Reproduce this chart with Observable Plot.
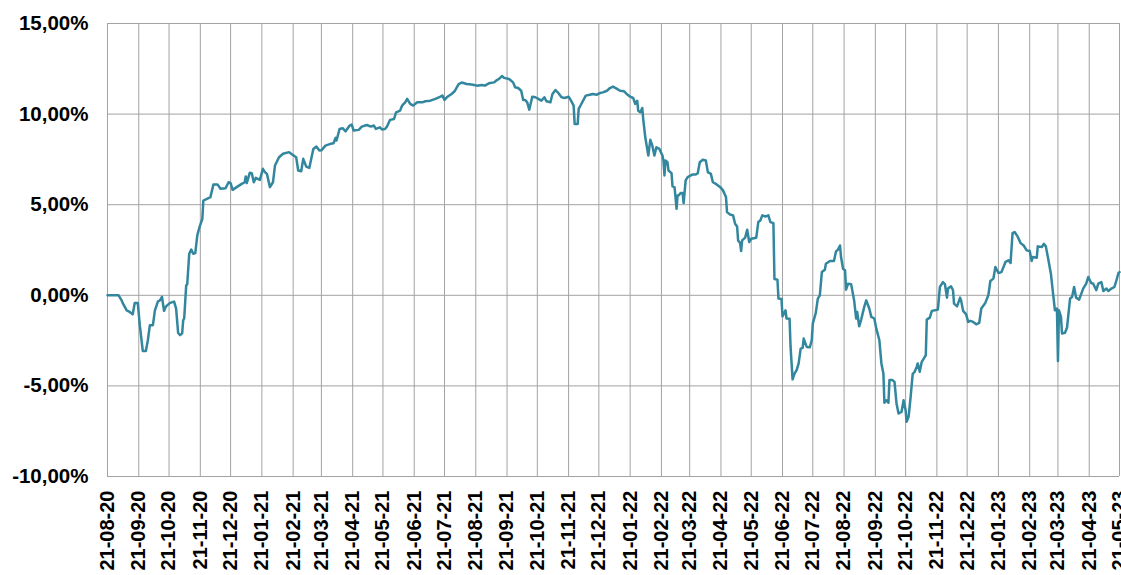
<!DOCTYPE html>
<html>
<head>
<meta charset="utf-8">
<script src="https://cdn.jsdelivr.net/npm/d3@7"></script>
<script src="https://cdn.jsdelivr.net/npm/@observablehq/plot@0.6"></script>
<style>
  html, body { margin: 0; padding: 0; background: #ffffff; }
  #chart { width: 1121px; height: 575px; overflow: hidden; }
</style>
</head>
<body>
<div id="chart"></div>
<script>
const tickDates = ["2020-08-21","2020-09-21","2020-10-21","2020-11-21","2020-12-21","2021-01-21","2021-02-21","2021-03-21","2021-04-21","2021-05-21","2021-06-21","2021-07-21","2021-08-21","2021-09-21","2021-10-21","2021-11-21","2021-12-21","2022-01-21","2022-02-21","2022-03-21","2022-04-21","2022-05-21","2022-06-21","2022-07-21","2022-08-21","2022-09-21","2022-10-21","2022-11-21","2022-12-21","2023-01-21","2023-02-21","2023-03-21","2023-04-21","2023-05-21"];
const yTicks = [-10, -5, 0, 5, 10, 15];

const dates = [
"2020-08-21","2020-09-01","2020-09-04","2020-09-05","2020-09-09","2020-09-12","2020-09-15","2020-09-17","2020-09-20","2020-09-22","2020-09-25","2020-09-28","2020-09-30","2020-10-02","2020-10-05","2020-10-07","2020-10-10","2020-10-12","2020-10-14","2020-10-16","2020-10-18","2020-10-22","2020-10-26","2020-10-28","2020-10-30","2020-11-01","2020-11-03","2020-11-04","2020-11-05","2020-11-07","2020-11-08","2020-11-10","2020-11-12","2020-11-14","2020-11-16","2020-11-18","2020-11-20","2020-11-23","2020-11-24","2020-11-28","2020-12-01","2020-12-04","2020-12-08","2020-12-11","2020-12-16","2020-12-19","2020-12-21","2020-12-23","2020-12-27",
"2021-01-01","2021-01-04","2021-01-05","2021-01-06","2021-01-09","2021-01-11","2021-01-13","2021-01-15","2021-01-19","2021-01-22","2021-01-24","2021-01-26","2021-01-29","2021-02-01","2021-02-03","2021-02-07","2021-02-11","2021-02-17","2021-02-20","2021-02-24","2021-02-26","2021-03-01","2021-03-03","2021-03-06","2021-03-09","2021-03-13","2021-03-16","2021-03-19","2021-03-21","2021-03-25","2021-03-30","2021-04-02","2021-04-04","2021-04-05","2021-04-08","2021-04-11","2021-04-14","2021-04-18","2021-04-20","2021-04-22","2021-04-27","2021-04-30","2021-05-05","2021-05-09","2021-05-12","2021-05-14","2021-05-18","2021-05-20","2021-05-23","2021-05-25","2021-05-28","2021-06-01","2021-06-03","2021-06-07","2021-06-09","2021-06-12","2021-06-14","2021-06-17","2021-06-20","2021-06-24","2021-06-29","2021-07-02","2021-07-07","2021-07-12","2021-07-17","2021-07-19","2021-07-21","2021-07-24","2021-07-28","2021-07-31","2021-08-04","2021-08-07","2021-08-12","2021-08-17","2021-08-22","2021-08-27","2021-08-30","2021-09-03","2021-09-08","2021-09-11","2021-09-13","2021-09-16","2021-09-18","2021-09-23","2021-09-27","2021-09-29","2021-10-02","2021-10-05","2021-10-07","2021-10-09","2021-10-11","2021-10-13","2021-10-16","2021-10-19","2021-10-22","2021-10-25","2021-10-28","2021-10-30","2021-11-03","2021-11-05","2021-11-08","2021-11-11","2021-11-14","2021-11-17","2021-11-21","2021-11-23","2021-11-26","2021-11-27","2021-11-30","2021-12-01","2021-12-04","2021-12-08","2021-12-12","2021-12-15","2021-12-19","2021-12-22","2021-12-25","2021-12-29",
"2022-01-01","2022-01-04","2022-01-08","2022-01-11","2022-01-15","2022-01-17","2022-01-21","2022-01-24","2022-01-26","2022-01-28","2022-01-29","2022-01-31","2022-02-02","2022-02-03","2022-02-05","2022-02-08","2022-02-10","2022-02-12","2022-02-14","2022-02-16","2022-02-19","2022-02-22","2022-02-23","2022-02-24","2022-02-25","2022-02-27","2022-02-28","2022-03-03","2022-03-04","2022-03-06","2022-03-08","2022-03-09","2022-03-10","2022-03-12","2022-03-14","2022-03-15","2022-03-17","2022-03-19","2022-03-24","2022-03-27","2022-03-29","2022-03-31","2022-04-03","2022-04-06","2022-04-08","2022-04-11","2022-04-13","2022-04-16","2022-04-18","2022-04-21","2022-04-23","2022-04-26","2022-04-27","2022-04-30","2022-05-03","2022-05-05","2022-05-07","2022-05-08","2022-05-10","2022-05-11","2022-05-12","2022-05-15","2022-05-17","2022-05-19","2022-05-21","2022-05-26","2022-05-28","2022-05-30","2022-06-01","2022-06-04","2022-06-07","2022-06-09","2022-06-12","2022-06-13","2022-06-16","2022-06-17","2022-06-20","2022-06-21","2022-06-24","2022-06-25","2022-06-28","2022-06-29","2022-07-01","2022-07-03","2022-07-05","2022-07-07","2022-07-09","2022-07-11","2022-07-12","2022-07-15","2022-07-18","2022-07-20","2022-07-21","2022-07-24","2022-07-26","2022-07-28","2022-07-30","2022-08-02","2022-08-03","2022-08-07","2022-08-11","2022-08-13","2022-08-15","2022-08-17","2022-08-18","2022-08-20","2022-08-22","2022-08-23","2022-08-25","2022-08-28","2022-08-31","2022-09-02","2022-09-03","2022-09-05","2022-09-07","2022-09-10","2022-09-12","2022-09-15","2022-09-17","2022-09-20","2022-09-22","2022-09-25","2022-09-27","2022-09-29","2022-09-30","2022-10-02","2022-10-04","2022-10-05","2022-10-08","2022-10-10","2022-10-12","2022-10-14","2022-10-17","2022-10-19","2022-10-21","2022-10-22","2022-10-24","2022-10-26","2022-10-28","2022-10-30","2022-11-01","2022-11-02","2022-11-04","2022-11-06","2022-11-08","2022-11-10","2022-11-11","2022-11-14","2022-11-16","2022-11-19","2022-11-22","2022-11-24","2022-11-27","2022-11-29","2022-12-01","2022-12-02","2022-12-05","2022-12-07","2022-12-08","2022-12-11","2022-12-14","2022-12-15","2022-12-17","2022-12-20","2022-12-22","2022-12-24","2022-12-27","2022-12-30",
"2023-01-02","2023-01-04","2023-01-08","2023-01-11","2023-01-13","2023-01-16","2023-01-18","2023-01-21","2023-01-24","2023-01-28","2023-01-31","2023-02-02","2023-02-04","2023-02-06","2023-02-09","2023-02-12","2023-02-15","2023-02-18","2023-02-21","2023-02-23","2023-02-24","2023-02-28","2023-03-01","2023-03-05","2023-03-07","2023-03-09","2023-03-11","2023-03-14","2023-03-16","2023-03-18","2023-03-20","2023-03-21","2023-03-22","2023-03-24","2023-03-25","2023-03-28","2023-03-30","2023-04-02","2023-04-04","2023-04-06","2023-04-08","2023-04-11","2023-04-15","2023-04-18","2023-04-20","2023-04-23","2023-04-25","2023-04-28","2023-04-30","2023-05-03","2023-05-05","2023-05-08","2023-05-10","2023-05-13","2023-05-16","2023-05-18","2023-05-20","2023-05-21"
];

const values = [
0,0,-0.28,-0.42,-0.83,-0.92,-1.05,-0.42,-0.42,-1.65,-3.08,-3.08,-2.48,-1.65,-1.65,-0.83,-0.33,-0.28,-0.09,-0.86,-0.61,-0.42,-0.35,-0.73,-2.08,-2.2,-2.1,-1.38,-1.28,0.55,0.6,2.29,2.52,2.29,2.33,3.31,3.73,4.22,5.23,5.33,5.42,6.12,6.12,5.88,5.91,6.24,6.19,5.82,5.97,
6.15,6.24,6.56,6.19,6.76,6.74,6.24,6.48,6.37,6.98,6.8,6.7,5.97,6.24,7.16,7.62,7.81,7.9,7.77,7.62,6.89,6.85,7.53,7.1,7.03,8.08,8.21,7.99,8.0,8.26,8.36,8.39,8.69,8.54,9.18,9.22,9.05,9.37,9.42,9.09,9.13,9.31,9.4,9.31,9.37,9.18,9.27,9.15,9.18,9.31,9.68,9.73,10.1,10.19,10.47,10.65,10.84,10.56,10.47,10.65,10.65,10.71,10.74,10.84,10.96,11.02,10.78,10.96,11.11,11.26,11.66,11.74,11.66,11.63,11.57,11.61,11.57,11.7,11.75,11.88,11.94,12.1,12.0,11.94,11.75,11.48,11.44,11.29,10.78,10.78,10.65,10.24,10.96,10.93,10.84,10.74,10.93,10.71,10.65,11.11,11.33,11.15,10.93,10.89,10.96,10.78,10.47,9.46,9.46,10.29,10.6,11.02,11.07,11.11,11.07,11.16,11.2,11.29,
11.44,11.52,11.39,11.29,11.26,11.14,10.96,10.89,10.56,10.74,10.19,10.1,10.34,9.7,8.72,7.71,8.58,8.26,7.71,8.17,8.08,7.71,7.44,6.61,7.44,7.34,6.89,6.74,6.01,5.97,4.77,5.51,5.51,5.64,5.64,5.09,6.34,6.52,6.67,6.67,6.74,7.34,7.48,7.44,6.8,6.7,6.24,6.15,6.06,5.93,5.79,5.42,4.59,4.46,4.41,3.95,3.8,3.03,2.88,2.44,3.03,3.18,3.62,2.94,3.12,3.18,4.04,4.13,4.41,4.35,4.41,4.04,3.98,0.9,0.86,-0.18,-0.2,-1.16,-0.83,-1.28,-1.3,-2.85,-4.64,-4.31,-4.13,-3.76,-2.94,-2.9,-2.39,-2.85,-2.87,-2.48,-1.56,-0.97,-0.18,0,1.28,1.41,1.74,1.89,1.89,2.42,2.52,2.75,2.11,1.47,1.38,0.31,0.64,0.61,-0.28,-1.28,-0.92,-1.71,-1.34,-0.64,-0.28,-0.73,-1.19,-1.28,-1.84,-2.48,-3.76,-4.31,-5.93,-5.79,-5.93,-4.68,-4.68,-4.78,-5.97,-6.52,-6.43,-5.79,-6.34,-6.98,-6.7,-5.6,-4.35,-4.22,-3.95,-3.76,-4.22,-3.67,-3.49,-3.31,-1.34,-1.23,-0.86,-0.83,-0.79,0.46,0.73,0.61,-0.13,0.37,0.5,0.28,-0.46,-0.61,-0.13,-0.28,-0.86,-1.05,-1.47,-1.41,-1.47,-1.6,
-1.52,-0.73,-0.42,0,0.79,0.92,1.56,1.23,1.28,1.84,1.93,1.78,3.43,3.49,3.25,2.88,2.75,2.48,2.44,1.89,2.11,2.07,2.7,2.66,2.84,2.7,2.11,1.19,0.18,-0.83,-0.73,-3.62,-0.83,-1.19,-2.11,-2.07,-1.78,-0.18,-0.09,0.46,-0.13,-0.24,0.37,0.64,1.01,0.68,0.64,0.28,0.64,0.73,0.24,0.37,0.24,0.37,0.46,0.83,1.23,1.28
];

const data = dates.map((d, i) => ({date: new Date(d + "T00:00:00Z"), value: values[i]}));
const ticks = tickDates.map(d => new Date(d + "T00:00:00Z"));
const fmtDate = d3.utcFormat("%d-%m-%y");
const fmtPct = d => d.toFixed(2).replace(".", ",") + "%";
const font = "'Liberation Sans', Arial, Helvetica, sans-serif";

const chart = Plot.plot({
  width: 1121,
  height: 575,
  marginLeft: 107,
  marginRight: 2,
  marginTop: 23,
  marginBottom: 99,
  style: {fontFamily: font, background: "#ffffff", color: "#000000"},
  x: {type: "utc", domain: [ticks[0], ticks[ticks.length - 1]], label: null},
  y: {domain: [-10, 15], label: null},
  marks: [
    Plot.ruleY(yTicks, {stroke: "#a3a3a3", strokeWidth: 1}),
    Plot.ruleX(ticks, {stroke: "#a3a3a3", strokeWidth: 1}),
    Plot.axisY({ticks: yTicks, tickFormat: fmtPct, tickSize: 0, tickPadding: 19, fontSize: 20.5, fontWeight: "bold", fill: "#000", label: null}),
    Plot.axisX({ticks: ticks, tickFormat: fmtDate, tickSize: 0, tickPadding: 14, tickRotate: -90, fontSize: 20, fontWeight: "bold", fill: "#000", label: null}),
    Plot.line(data, {x: "date", y: "value", stroke: "#32879e", strokeWidth: 2.5})
  ]
});
document.getElementById("chart").appendChild(chart);
</script>
</body>
</html>
